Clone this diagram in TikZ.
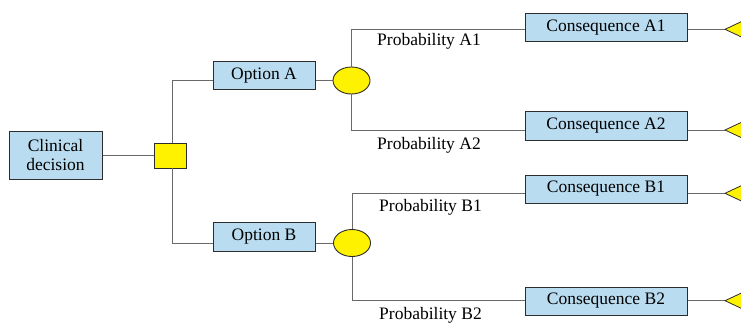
\documentclass[tikz,border=0pt]{standalone}
\usepackage{fontspec}
\setmainfont{Liberation Serif}
\usetikzlibrary{shapes.geometric}
\definecolor{boxblue}{RGB}{185,220,240}
\definecolor{lnc}{RGB}{105,105,105}
\definecolor{bdc}{RGB}{45,45,45}
\begin{document}
\begin{tikzpicture}[x=1pt,y=-1pt,
  every node/.style={font=\fontsize{17.5}{19.5}\selectfont},
  boxnode/.style={draw=bdc,fill=boxblue,line width=1pt,inner sep=0pt,minimum width=#1},
  chance/.style={ellipse,draw=bdc,fill=yellow,line width=0.9pt,inner sep=0pt,minimum width=37pt,minimum height=27pt},
  decnode/.style={rectangle,draw=bdc,fill=yellow,line width=0.9pt,inner sep=0pt,minimum width=32pt,minimum height=25pt},
  conn/.style={draw=lnc,line width=1pt},
  tri/.style={draw=bdc,fill=yellow,line width=0.8pt},
  prob/.style={anchor=west,inner sep=0pt}]
\useasboundingbox (0,0) rectangle (741,322);
\clip (0,0) rectangle (741,322);
% nodes
\node[boxnode=93pt,minimum height=48pt,align=center] (cd) at (55.5,155) {Clinical\\decision};
\node[decnode] (sq) at (170,155.5) {};
\node[boxnode=102pt,minimum height=27.6pt] (optA) at (264,75.5) {Option A};
\node[boxnode=102pt,minimum height=28.6pt] (optB) at (264,237) {Option B};
\node[chance] (ellA) at (351.5,80.5) {};
\node[chance] (ellB) at (352,243) {};
\node[boxnode=162pt,minimum height=28.4pt] (conA1) at (606,27.5) {Consequence A1};
\node[boxnode=162pt,minimum height=29pt] (conA2) at (606,125.5) {Consequence A2};
\node[boxnode=162pt,minimum height=28pt] (conB1) at (606,189) {Consequence B1};
\node[boxnode=162pt,minimum height=28pt] (conB2) at (606,301) {Consequence B2};
\node[prob] (pA1) at (377,41.5) {Probability A1};
\node[prob] (pA2) at (377,145) {Probability A2};
\node[prob] (pB1) at (379,207) {Probability B1};
\node[prob] (pB2) at (379,315) {Probability B2};
\coordinate (tA1) at (725,29.3);
\coordinate (tA2) at (725,130);
\coordinate (tB1) at (725,193.3);
\coordinate (tB2) at (725,300.7);
% connectors
\draw[conn] (cd.east) -- (sq.west |- cd.east);
\draw[conn] ([xshift=2pt]sq.north) |- (optA.west |- ellA.west);
\draw[conn] ([xshift=2pt]sq.south) |- (optB.west |- ellB.west);
\draw[conn] (optA.east |- ellA.west) -- (ellA.west);
\draw[conn] (optB.east |- ellB.west) -- (ellB.west);
\draw[conn] (ellA.north) |- (conA1.west |- tA1);
\draw[conn] (ellA.south) |- (conA2.west |- tA2);
\draw[conn] (ellB.north) |- (conB1.west |- tB1);
\draw[conn] (ellB.south) |- (conB2.west |- tB2);
\draw[conn] (conA1.east |- tA1) -- (tA1);
\draw[conn] (conA2.east |- tA2) -- (tA2);
\draw[conn] (conB1.east |- tB1) -- (tB1);
\draw[conn] (conB2.east |- tB2) -- (tB2);
% terminal triangles
\foreach \t in {tA1,tA2,tB1,tB2}
  \draw[tri] (\t) -- ++(32,-15) -- ++(0,30) -- cycle;
\end{tikzpicture}
\end{document}
